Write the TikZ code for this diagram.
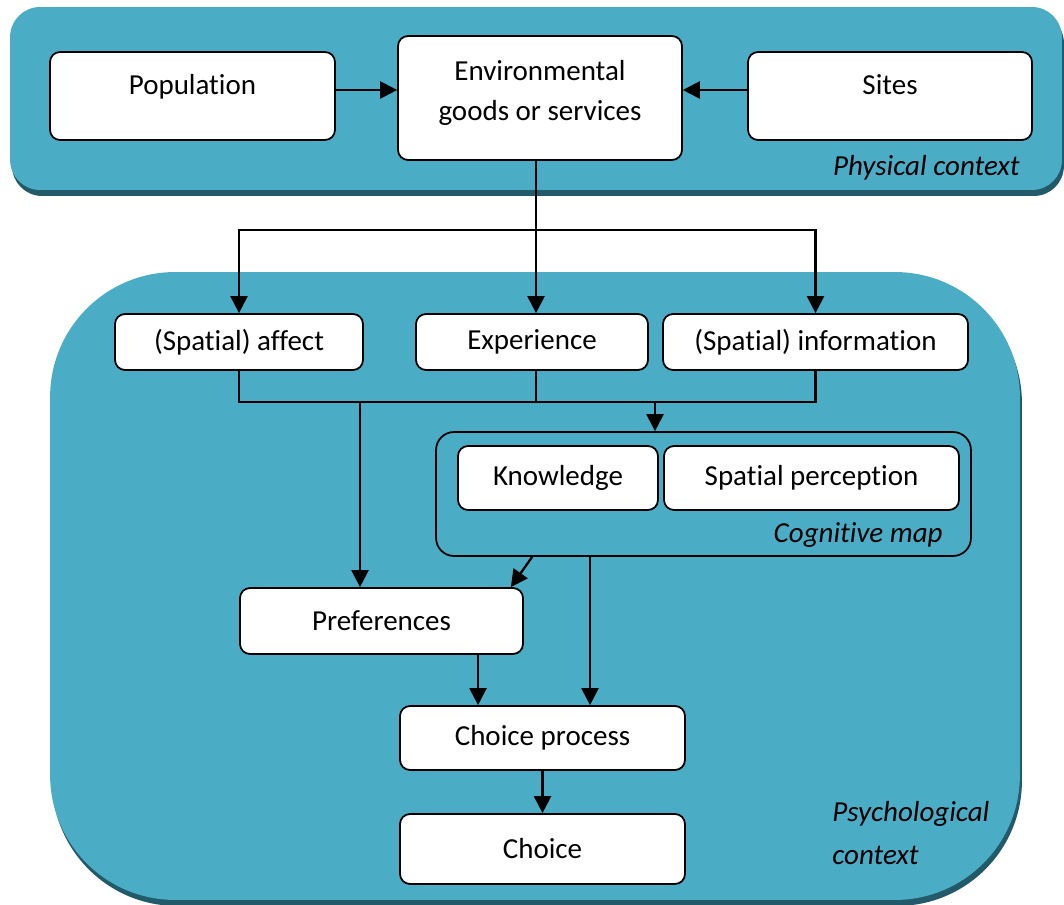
\documentclass[tikz,border=0pt]{standalone}
\usepackage{fontspec}
\setmainfont{Carlito}[Ligatures=NoCommon]
\usepackage{xcolor}
\usepackage{tikz}
\usetikzlibrary{arrows.meta, positioning, shadows, calc}
\definecolor{contextteal}{RGB}{75,172,198}
\definecolor{shadowteal}{RGB}{35,90,106}
\definecolor{flowcolor}{RGB}{0,0,0}

\begin{document}
\begin{tikzpicture}[
    x=0.02cm, y=-0.02cm,
    font=\fontsize{16.5}{22.7}\selectfont,
    context/.style={fill=contextteal, draw=none, drop shadow={shadow xshift=0.04cm, shadow yshift=-0.12cm, fill=shadowteal, opacity=1}},
    box/.style={draw, line width=1pt, rounded corners=0.2cm, fill=white, align=center, inner sep=0pt},
    raised/.style={text depth=13pt},
    tag/.style={font=\fontsize{16.5}{22.7}\selectfont\itshape, inner sep=0pt},
    arrow/.style={-{Triangle[length=0.34cm, width=0.34cm]}, line width=1.3pt, flowcolor},
    link/.style={line width=1.3pt, flowcolor}
]
    \useasboundingbox (0,0) rectangle (1064,905);

    % Context areas
    \node[context, rounded corners=0.6cm, minimum width=21.04cm, minimum height=3.66cm] (phys) at (536,98.5) {};
    \node[context, rounded corners=2.5cm, minimum width=19.4cm, minimum height=12.56cm] (psych) at (535,586) {};
    \node[box, fill=contextteal, rounded corners=0.36cm, minimum width=10.7cm, minimum height=2.48cm] (cogmap) at (703.5,494) {};

    % Physical context
    \node[box, raised, minimum width=5.7cm, minimum height=1.76cm] (pop) at (192.5,96) {Population};
    \node[box, text depth=9pt, minimum width=5.68cm, minimum height=2.48cm] (env) at (540,98) {Environmental\\goods or services};
    \node[box, raised, minimum width=5.68cm, minimum height=1.76cm] (sites) at (890,96) {Sites};

    % Psychological context
    \node[box, minimum width=4.96cm, minimum height=1.12cm] (affect) at (239,342) {(Spatial) affect};
    \node[box, minimum width=4.64cm, minimum height=1.12cm] (exper) at (532,342) {Experience};
    \node[box, minimum width=6.1cm, minimum height=1.12cm] (info) at (815.5,342) {(Spatial) information};
    \node[box, minimum width=4cm, minimum height=1.28cm] (know) at (558,478) {Knowledge};
    \node[box, minimum width=5.9cm, minimum height=1.28cm] (spat) at (811.5,478) {Spatial perception};
    \node[box, minimum width=5.66cm, minimum height=1.32cm] (pref) at (381.5,621) {Preferences};
    \node[box, minimum width=5.7cm, minimum height=1.28cm] (proc) at (542.5,738) {Choice process};
    \node[box, minimum width=5.7cm, minimum height=1.4cm] (choice) at (542.5,849) {Choice};

    % Labels
    \node[tag, anchor=east] (physlbl) at (1020,168) {Physical context};
    \node[tag, anchor=east] (coglbl) at (943,535) {Cognitive map};
    \node[tag, anchor=west, align=left] (psychlbl) at (832,833) {Psychological\\[2pt]context};

    % Junctions
    \coordinate (split) at (536,230);
    \coordinate (join) at (536,402);
    \coordinate (tocog) at (655,402);
    \coordinate (topref) at (360,402);

    % Arrows
    \draw[arrow] ([yshift=0.12cm]pop.east) -- ([yshift=0.12cm]pop.east -| env.west);
    \draw[arrow] ([yshift=0.12cm]sites.west) -- ([yshift=0.12cm]sites.west -| env.east);
    \draw[arrow] (split |- env.south) -- (split |- exper.north);
    \draw[arrow] (split) -| (affect.north);
    \draw[arrow] (split) -| (info.north);
    \draw[link] (affect.south) |- (join) -| (info.south);
    \draw[link] (join |- exper.south) -- (join);
    \draw[arrow] (tocog) -- (tocog |- cogmap.north);
    \draw[arrow] (topref) -- (topref |- pref.north);
    \draw[arrow] ([xshift=1.94cm]cogmap.south west) -- ([xshift=-0.26cm]pref.north east);
    \draw[arrow] ([xshift=0.95cm]proc.north |- cogmap.south) -- ([xshift=0.95cm]proc.north);
    \draw[arrow] ([xshift=-1.29cm]proc.north |- pref.south) -- ([xshift=-1.29cm]proc.north);
    \draw[arrow] (proc) -- (choice);
\end{tikzpicture}
\end{document}
